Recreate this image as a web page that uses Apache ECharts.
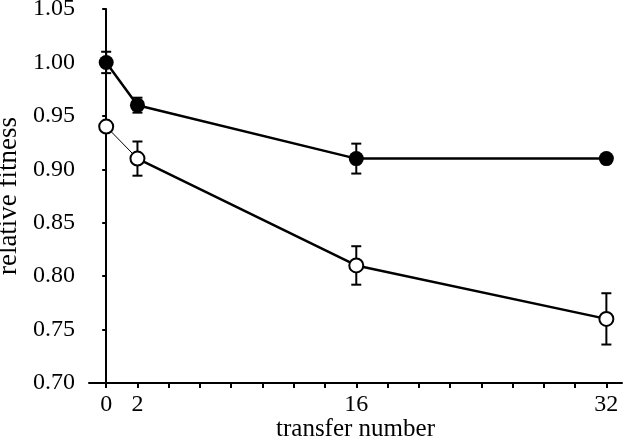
<!DOCTYPE html>
<html>
<head>
<meta charset="utf-8">
<script src="https://cdn.jsdelivr.net/npm/echarts@6/dist/echarts.min.js"></script>
<style>html,body{margin:0;padding:0;background:#fff}#chart{width:625px;height:440px}</style>
</head>
<body>
<div id="chart"></div>
<script>
const transfers = [0, 2, 16, 32];
const filledMean = [1.00, 0.96, 0.91, 0.91];
const filledErr = [0.010, 0.007, 0.014, 0];
const openMean = [0.94, 0.91, 0.81, 0.76];
const openErr = [0, 0.016, 0.018, 0.024];
const xTickValues = [0, 2, 4, 6, 8, 10, 12, 14, 16, 18, 20, 22, 24, 26, 28, 30, 32];
const xLabelValues = [0, 2, 16, 32];
const xName = 'transfer number';
const yName = 'relative fitness';

const FONT = '"Liberation Serif", "Times New Roman", serif';
const pts = (xs, ys) => xs.map((x, i) => [x, ys[i]]);
const errData = (xs, ys, es) => xs.map((x, i) => [x, ys[i] - es[i], ys[i] + es[i]]).filter((d, i) => es[i] > 0);

function renderErr(params, api) {
  const x = api.value(0);
  const lo = api.coord([x, api.value(1)]);
  const hi = api.coord([x, api.value(2)]);
  const w = 5;
  const st = { stroke: '#000', lineWidth: 2 };
  return {
    type: 'group',
    children: [
      { type: 'line', shape: { x1: lo[0], y1: lo[1], x2: hi[0], y2: hi[1] }, style: st },
      { type: 'line', shape: { x1: lo[0] - w, y1: lo[1], x2: lo[0] + w, y2: lo[1] }, style: st },
      { type: 'line', shape: { x1: hi[0] - w, y1: hi[1], x2: hi[0] + w, y2: hi[1] }, style: st }
    ]
  };
}

const chart = echarts.init(document.getElementById('chart'), null, { renderer: 'canvas' });
chart.setOption({
  animation: false,
  backgroundColor: '#fff',
  grid: { left: 89, right: 3, top: 9, bottom: 57, containLabel: false, outerBoundsMode: 'none' },
  xAxis: {
    type: 'value', min: -1.1, max: 33,
    name: xName, nameLocation: 'middle', nameGap: 34, nameMoveOverlap: false,
    nameTextStyle: { fontFamily: FONT, fontSize: 25, color: '#000' },
    axisLine: { show: true, lineStyle: { color: '#000', width: 2 } },
    axisTick: { show: true, customValues: xTickValues, length: 5, lineStyle: { color: '#000', width: 2 } },
    axisLabel: { customValues: xLabelValues, fontFamily: FONT, fontSize: 24, color: '#000', margin: 10 },
    splitLine: { show: false }
  },
  yAxis: {
    type: 'value', min: 0.70, max: 1.05, interval: 0.05,
    name: yName, nameLocation: 'middle', nameGap: 67, nameRotate: 90, nameMoveOverlap: false,
    nameTextStyle: { fontFamily: FONT, fontSize: 27, color: '#000' },
    axisLine: { show: true, lineStyle: { color: '#000', width: 2 } },
    axisTick: { show: true, length: 4, lineStyle: { color: '#000', width: 2 } },
    axisLabel: { fontFamily: FONT, fontSize: 24, color: '#000', margin: 14, formatter: v => v.toFixed(2) },
    splitLine: { show: false }
  },
  series: [
    { type: 'line', data: pts(transfers, filledMean), symbol: 'none', lineStyle: { color: '#000', width: 2.5 }, z: 1 },
    { type: 'line', data: pts(transfers.slice(0, 2), openMean.slice(0, 2)), symbol: 'none', lineStyle: { color: '#000', width: 1 }, z: 1 },
    { type: 'line', data: pts(transfers.slice(1), openMean.slice(1)), symbol: 'none', lineStyle: { color: '#000', width: 2.5 }, z: 1 },
    { type: 'custom', data: errData(transfers, filledMean, filledErr), renderItem: renderErr, encode: { x: 0, y: [1, 2] }, z: 2 },
    { type: 'custom', data: errData(transfers, openMean, openErr), renderItem: renderErr, encode: { x: 0, y: [1, 2] }, z: 2 },
    { type: 'scatter', data: pts(transfers, filledMean), symbol: 'circle', symbolSize: 15, itemStyle: { color: '#000', opacity: 1 }, z: 3 },
    { type: 'scatter', data: pts(transfers, openMean), symbol: 'circle', symbolSize: 14, itemStyle: { color: '#fff', borderColor: '#000', borderWidth: 2, opacity: 1 }, z: 3 }
  ]
});
</script>
</body>
</html>
